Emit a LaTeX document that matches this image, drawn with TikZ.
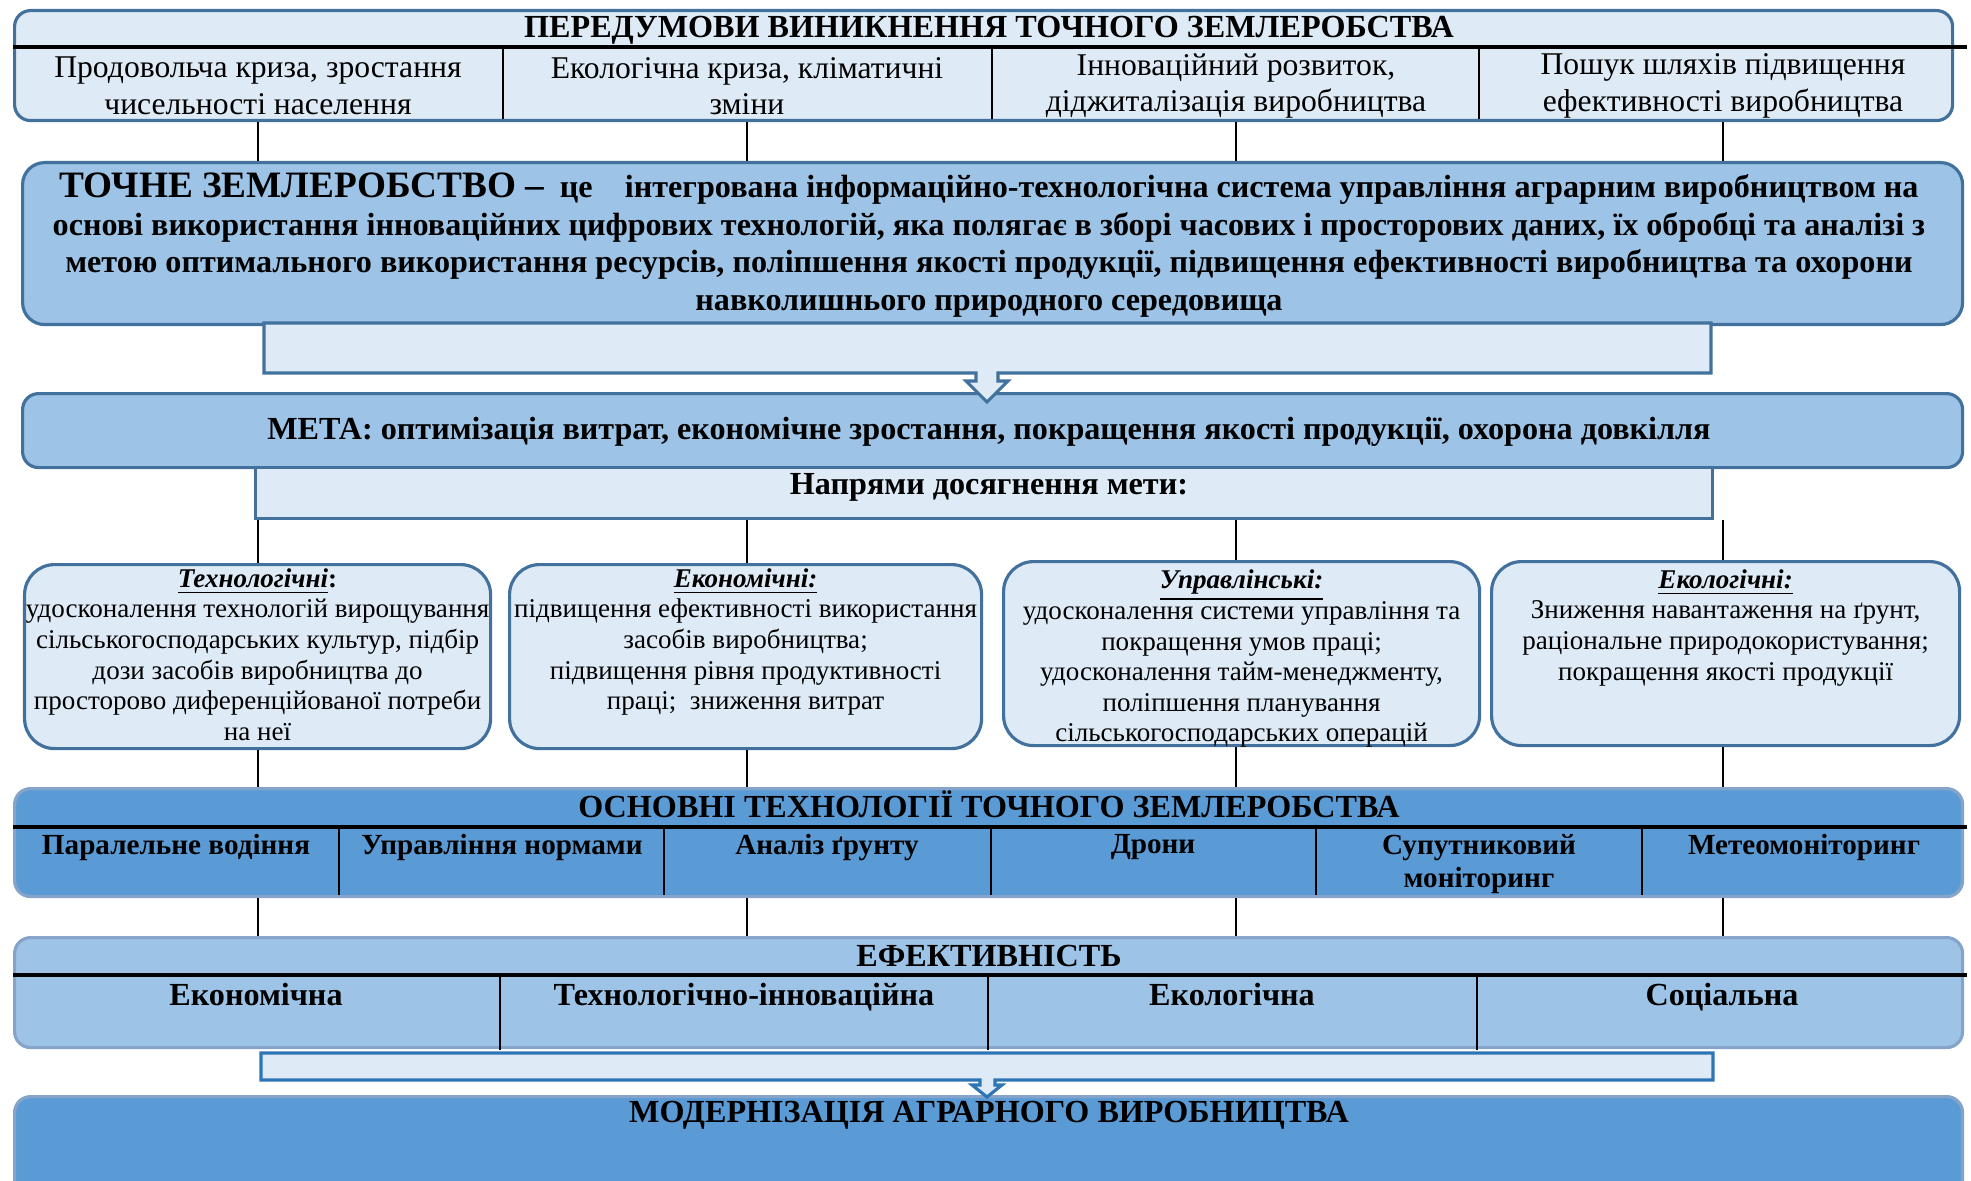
\documentclass[tikz,border=0pt]{standalone}
\usepackage{fontspec}
\setmainfont{Liberation Serif}
\usepackage{xcolor}
\usetikzlibrary{positioning}

\definecolor{paleblue}{HTML}{DEEBF7}
\definecolor{midblue}{HTML}{9DC3E6}
\definecolor{deepblue}{HTML}{5B9BD5}
\definecolor{edgeblue}{HTML}{41719C}
\definecolor{softedge}{HTML}{86A3C9}
\definecolor{brightedge}{HTML}{2E75B6}

\begin{document}
\begin{tikzpicture}[
    line width=0.9pt,
    panel/.style={rectangle, draw=edgeblue, rounded corners=1.6mm, anchor=north west, inner sep=0pt},
    strip/.style={rectangle, draw=edgeblue, fill=paleblue, anchor=north west, inner sep=0pt},
    dirbox/.style={panel, fill=paleblue, rounded corners=3mm, minimum height=1.84cm},
    titletext/.style={font=\fontsize{9.15}{10.5}\selectfont\bfseries, inner sep=0pt},
    celltext/.style={font=\fontsize{9}{10.4}\selectfont, align=center, inner sep=0pt},
    dirtext/.style={font=\fontsize{7.7}{8.7}\selectfont, align=center, inner sep=0pt},
    techtext/.style={font=\fontsize{8.3}{9.3}\selectfont\bfseries, align=center, inner sep=0pt, anchor=north},
    tablerule/.style={draw=black, line width=1.1pt},
    divider/.style={draw=black, line width=0.6pt},
    link/.style={draw=black, line width=0.6pt}
  ]
  \useasboundingbox (0,0) rectangle (19.71,-11.81);

  % Prerequisites
  \node[panel, fill=paleblue, minimum width=19.38cm, minimum height=1.10cm] (pre) at (0.13,-0.09) {};
  \node[titletext] (pretitle) at (9.89,-0.30) {ПЕРЕДУМОВИ ВИНИКНЕННЯ ТОЧНОГО ЗЕМЛЕРОБСТВА};
  \draw[tablerule] (0.13,-0.47) -- (19.67,-0.47);
  \foreach \x in {5.03,9.92,14.79}
    \draw[divider] (\x,-0.47) -- (\x,-1.19);
  \node[celltext] (pre1) at (2.58,-0.86) {Продовольча криза, зростання\\чисельності населення};
  \node[celltext] (pre2) at (7.47,-0.86) {Екологічна криза, кліматичні\\зміни};
  \node[celltext] (pre3) at (12.36,-0.86) {Інноваційний розвиток,\\діджиталізація виробництва};
  \node[celltext] (pre4) at (17.23,-0.86) {Пошук шляхів підвищення\\ефективності виробництва};

  % Definition
  \node[panel, fill=midblue, rounded corners=2.2mm, minimum width=19.40cm, minimum height=1.62cm] (def) at (0.21,-1.61) {};
  \node[font=\fontsize{9.15}{10.7}\selectfont\bfseries, align=center, inner sep=0pt] (deftext) at (9.89,-2.45)
    {{\fontsize{10.6}{10.7}\selectfont ТОЧНЕ ЗЕМЛЕРОБСТВО –}\enspace це\quad інтегрована інформаційно-технологічна система управління аграрним виробництвом на\\
     основі використання інноваційних цифрових технологій, яка полягає в зборі часових і просторових даних, їх обробці та аналізі з\\
     метою оптимального використання ресурсів, поліпшення якості продукції, підвищення ефективності виробництва та охорони\\
     навколишнього природного середовища};
  \foreach \n in {pre1,pre2,pre3,pre4}
    \draw[link] (\n |- pre.south) -- (\n |- def.north);

  % Goal
  \node[panel, fill=midblue, minimum width=19.40cm, minimum height=0.74cm] (goal) at (0.21,-3.92) {};
  \node[titletext] (goaltext) at (9.89,-4.32)
    {МЕТА: оптимізація витрат, економічне зростання, покращення якості продукції, охорона довкілля};
  \draw[fill=paleblue, draw=edgeblue] (2.64,-3.23) -- (17.11,-3.23) -- (17.11,-3.73) -- (9.98,-3.73)
    -- (9.98,-3.81) -- (10.08,-3.81) -- (9.87,-4.02) -- (9.66,-3.81) -- (9.76,-3.81) -- (9.76,-3.73)
    -- (2.64,-3.73) -- cycle;
  \node[strip, minimum width=14.57cm, minimum height=0.51cm] (ways) at (2.54,-4.66) {};
  \node[titletext] (waystext) at (9.89,-4.87) {Напрями досягнення мети:};

  % Directions
  \node[dirbox, minimum width=4.66cm] (d1) at (0.23,-5.63) {};
  \node[dirbox, minimum width=4.72cm] (d2) at (5.08,-5.63) {};
  \node[dirbox, minimum width=4.76cm] (d3) at (10.02,-5.60) {};
  \node[dirbox, minimum width=4.68cm] (d4) at (14.90,-5.60) {};
  \node[dirtext, below=0.04cm of d1.north] (d1text)
    {\underline{\textbf{\textit{Технологічні}}}\textbf{:}\\удосконалення технологій вирощування\\сільськогосподарських культур, підбір\\дози засобів виробництва до\\просторово диференційованої потреби\\на неї};
  \node[dirtext, below=0.04cm of d2.north] (d2text)
    {\underline{\textbf{\textit{Економічні:}}}\\підвищення ефективності використання\\засобів виробництва;\\підвищення рівня продуктивності\\праці;\enspace зниження витрат};
  \node[dirtext, below=0.08cm of d3.north] (d3text)
    {\underline{\textbf{\textit{Управлінські:}}}\\[-0.03cm]удосконалення системи управління та\\покращення умов праці;\\удосконалення тайм-менеджменту,\\поліпшення планування\\сільськогосподарських операцій};
  \node[dirtext, below=0.08cm of d4.north] (d4text)
    {\underline{\textbf{\textit{Екологічні:}}}\\Зниження навантаження на ґрунт,\\раціональне природокористування;\\покращення якості продукції};
  \foreach \n/\d in {pre1/d1,pre2/d2,pre3/d3,pre4/d4}
    \draw[link] (\n |- ways.south) -- (\n |- \d.north);

  % Technologies
  \node[panel, fill=deepblue, draw=softedge, minimum width=19.48cm, minimum height=1.08cm] (tech) at (0.13,-7.87) {};
  \node[titletext] (techtitle) at (9.89,-8.04) {ОСНОВНІ ТЕХНОЛОГІЇ ТОЧНОГО ЗЕМЛЕРОБСТВА};
  \draw[tablerule] (0.13,-8.27) -- (19.67,-8.27);
  \foreach \x in {3.39,6.64,9.91,13.16,16.42}
    \draw[divider] (\x,-8.27) -- (\x,-8.95);
  \node[techtext] (t1) at (1.76,-8.33) {Паралельне водіння};
  \node[techtext] (t2) at (5.02,-8.33) {Управління нормами};
  \node[techtext] (t3) at (8.27,-8.33) {Аналіз ґрунту};
  \node[techtext] (t4) at (11.53,-8.33) {Дрони};
  \node[techtext] (t5) at (14.79,-8.33) {Супутниковий\\моніторинг};
  \node[techtext] (t6) at (18.04,-8.33) {Метеомоніторинг};
  \foreach \n/\d in {pre1/d1,pre2/d2,pre3/d3,pre4/d4}
    \draw[link] (\n |- \d.south) -- (\n |- tech.north);

  % Efficiency
  \node[panel, fill=midblue, draw=softedge, minimum width=19.48cm, minimum height=1.10cm] (eff) at (0.13,-9.36) {};
  \node[titletext] (efftitle) at (9.89,-9.56) {ЕФЕКТИВНІСТЬ};
  \draw[tablerule] (0.13,-9.75) -- (19.67,-9.75);
  \foreach \x in {5.00,9.88,14.77}
    \draw[divider] (\x,-9.75) -- (\x,-10.50);
  \node[titletext, anchor=north] (e1) at (2.56,-9.82) {Економічна};
  \node[titletext, anchor=north] (e2) at (7.44,-9.82) {Технологічно-інноваційна};
  \node[titletext, anchor=north] (e3) at (12.32,-9.82) {Екологічна};
  \node[titletext, anchor=north] (e4) at (17.22,-9.82) {Соціальна};
  \foreach \n in {pre1,pre2,pre3,pre4}
    \draw[link] (\n |- tech.south) -- (\n |- eff.north);

  % Modernization
  \node[panel, fill=deepblue, draw=softedge, minimum width=19.48cm, minimum height=1.60cm] (modern) at (0.13,-10.95) {};
  \node[titletext] (moderntext) at (9.89,-11.15) {МОДЕРНІЗАЦІЯ АГРАРНОГО ВИРОБНИЦТВА};
  \draw[fill=paleblue, draw=brightedge] (2.61,-10.53) -- (17.13,-10.53) -- (17.13,-10.80) -- (9.95,-10.80)
    -- (9.95,-10.85) -- (10.02,-10.85) -- (9.87,-10.97) -- (9.72,-10.85) -- (9.80,-10.85) -- (9.80,-10.80)
    -- (2.61,-10.80) -- cycle;

\end{tikzpicture}
\end{document}
